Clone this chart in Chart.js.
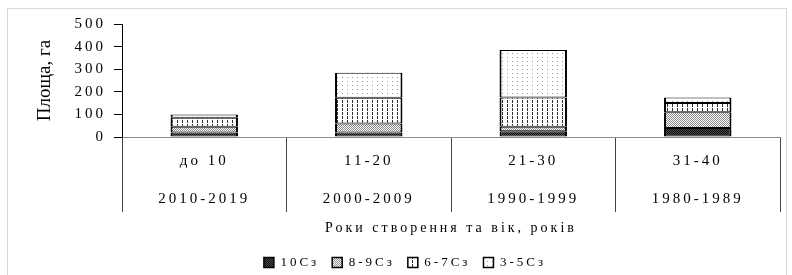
<!DOCTYPE html>
<html>
<head>
<meta charset="utf-8">
<script src="https://cdn.jsdelivr.net/npm/chart.js@4.4.1/dist/chart.umd.min.js"></script>
<style>
  body { margin: 0; background: #fff; }
  canvas { display: block; }
</style>
</head>
<body>
<canvas id="chartCanvas" width="792" height="275"></canvas>
<script>
const ageLabels = ["до 10", "11-20", "21-30", "31-40"];
const yearLabels = ["2010-2019", "2000-2009", "1990-1999", "1980-1989"];
const yTicks = [0, 100, 200, 300, 400, 500];

// Площа за класами (га)
const sc10 = [20, 20, 25, 40];
const sc89 = [25, 40, 20, 70];
const sc67 = [40, 114, 130, 40];
const sc35 = [15, 110, 210, 25];

const serif = "'Liberation Serif', 'DejaVu Serif', serif";

// Штрихування як у чорно-білому рисунку
function makePattern(w, h, bg, fg, dots) {
  const c = document.createElement("canvas");
  c.width = w;
  c.height = h;
  const g = c.getContext("2d");
  g.fillStyle = bg;
  g.fillRect(0, 0, w, h);
  g.fillStyle = fg;
  dots.forEach(d => g.fillRect(d[0], d[1], 1, 1));
  return document.getElementById("chartCanvas").getContext("2d").createPattern(c, "repeat");
}

const pat10 = makePattern(2, 2, "#4a4a4a", "#111111", [[0, 0], [1, 1]]);
const pat89 = makePattern(4, 4, "#ffffff", "#8a8a8a", [[0, 0], [1, 1], [2, 2], [3, 3], [2, 0], [3, 1], [0, 2], [1, 3]]);
const pat67 = makePattern(5, 4, "#ffffff", "#303030", [[2, 0], [2, 1], [2, 2]]);
const pat35 = makePattern(5, 4, "#ffffff", "#9a9a9a", [[2, 1]]);

const border = { left: 2, right: 2, top: 1, bottom: 1 };

const textPlugin = {
  id: "textPlugin",
  beforeLayout(chart) { chart.ctx.letterSpacing = "3px"; },
  beforeDraw(chart) {
    const ctx = chart.ctx;
    ctx.save();
    ctx.strokeStyle = "#d9d9d9";
    ctx.lineWidth = 1;
    ctx.strokeRect(7.5, 8.5, 779, 300);
    ctx.restore();
    ctx.letterSpacing = "3px"; // легенда
  },
  afterDatasetsDraw(chart) { chart.ctx.letterSpacing = "4px"; }, // осі (z: 1)
  afterDraw(chart) {
    const ctx = chart.ctx;
    const a = chart.chartArea;
    ctx.save();
    ctx.letterSpacing = "0px";
    ctx.translate(45, (a.top + a.bottom) / 2);
    ctx.rotate(-Math.PI / 2);
    ctx.font = "19px " + serif;
    ctx.fillStyle = "#000";
    ctx.textAlign = "center";
    ctx.textBaseline = "middle";
    ctx.fillText("Площа, га", 0, 0);
    ctx.restore();
  }
};

new Chart(document.getElementById("chartCanvas"), {
  type: "bar",
  data: {
    labels: ageLabels.map((a, i) => [a, yearLabels[i]]),
    datasets: [
      { label: "10Сз", data: sc10, backgroundColor: pat10 },
      { label: "8-9Сз", data: sc89, backgroundColor: pat89 },
      { label: "6-7Сз", data: sc67, backgroundColor: pat67 },
      { label: "3-5Сз", data: sc35, backgroundColor: pat35 }
    ].map(d => Object.assign(d, {
      borderColor: "#000",
      borderWidth: border,
      borderSkipped: false,
      barPercentage: 0.41,
      categoryPercentage: 1
    }))
  },
  options: {
    responsive: false,
    animation: false,
    devicePixelRatio: 1,
    layout: { padding: { left: 30, right: 12, top: 24, bottom: -4 } },
    plugins: {
      tooltip: { enabled: false },
      legend: {
        position: "bottom",
        labels: {
          color: "#000",
          font: { family: serif, size: 13 },
          boxWidth: 10,
          boxHeight: 10,
          padding: 13
        }
      }
    },
    scales: {
      x: {
        stacked: true,
        z: 1,
        border: { color: "#8c8c8c", width: 1 },
        grid: {
          offset: true,
          drawOnChartArea: false,
          tickLength: 75,
          color: "#444",
          lineWidth: 1
        },
        ticks: {
          color: "#000",
          autoSkip: false,
          maxRotation: 0,
          padding: -70,
          font: { family: serif, size: 15, lineHeight: 38 / 15 }
        },
        title: {
          display: true,
          text: "Роки створення та вік, років",
          color: "#000",
          font: { family: serif, size: 14 },
          padding: { top: 4, bottom: 6 }
        },
        afterFit(scale) { scale.height = 106; }
      },
      y: {
        stacked: true,
        z: 1,
        min: 0,
        max: 500,
        border: { color: "#000", width: 1 },
        grid: { drawOnChartArea: false, tickLength: 8, color: "#000" },
        afterBuildTicks(scale) { scale.ticks = yTicks.map(v => ({ value: v })); },
        ticks: {
          color: "#000",
          padding: 8,
          font: { family: serif, size: 15 }
        },
        afterFit(scale) { scale.width = 92; }
      }
    }
  },
  plugins: [textPlugin]
});
</script>
</body>
</html>
